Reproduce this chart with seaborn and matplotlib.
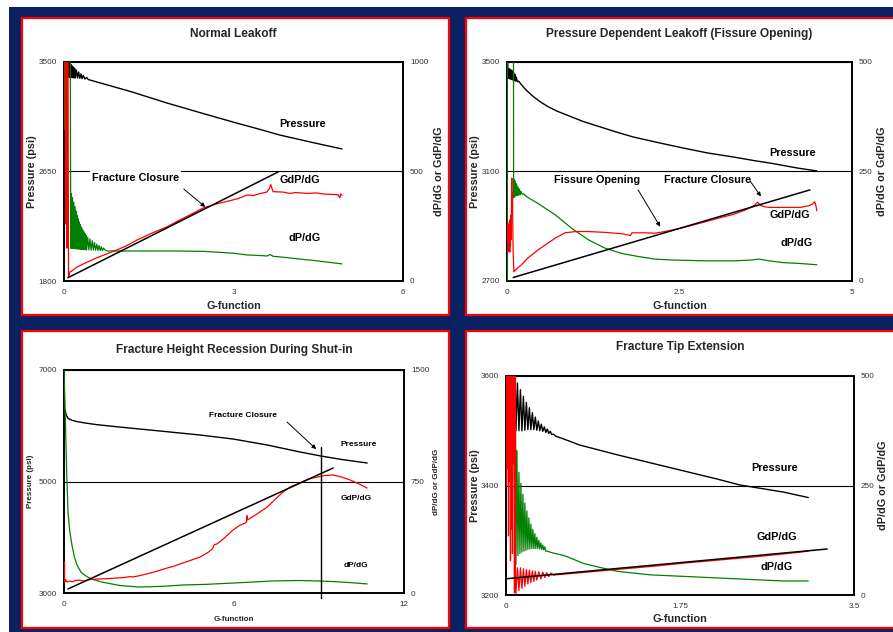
import matplotlib
matplotlib.use("Agg")
import matplotlib.pyplot as plt
from matplotlib.patches import Rectangle
import seaborn as sns

# ---------------- Normal Leakoff ----------------
nl_pres_g = [0.07, 0.08, 0.09, 0.10, 0.11, 0.12, 0.13, 0.14, 0.15, 0.16, 0.17, 0.18, 0.19, 0.20,
             0.22, 0.24, 0.26, 0.28, 0.30, 0.32, 0.34, 0.37, 0.40, 0.43, 0.46, 0.80, 1.20, 1.82,
             2.40, 2.99, 3.40, 3.82, 4.40, 4.92]
nl_pres = [3560, 3385, 3495, 3380, 3488, 3380, 3478, 3379, 3468, 3378, 3458, 3377, 3448, 3376,
           3436, 3375, 3422, 3373, 3408, 3371, 3395, 3368, 3380, 3364, 3360, 3318, 3268, 3182,
           3108, 3034, 2985, 2933, 2875, 2825]
nl_gdp_g = [0.02, 0.03, 0.04, 0.05, 0.06, 0.07, 0.08, 0.10, 0.15, 0.23, 0.40, 0.60, 0.94, 1.10,
            1.30, 1.55, 1.82, 2.00, 2.20, 2.46, 2.70, 2.99, 3.10, 3.24, 3.35, 3.45, 3.59, 3.63,
            3.66, 3.70, 3.88, 4.00, 4.10, 4.30, 4.48, 4.60, 4.70, 4.85, 4.88, 4.90, 4.92]
nl_gdp = [1150, 260, 1150, 150, 1150, 1150, 18, 40, 48, 64, 85, 108, 142, 160,
          188, 218, 247, 272, 298, 333, 352, 370, 378, 393, 390, 398, 406, 420,
          440, 408, 406, 400, 404, 400, 402, 397, 396, 394, 380, 398, 392]
nl_dpdg_g = [0.01, 0.01, 0.11, 0.12, 0.13, 0.14, 0.15, 0.16, 0.17, 0.18, 0.19, 0.20, 0.21,
             0.22, 0.23, 0.24, 0.25, 0.26, 0.27, 0.28, 0.29, 0.30, 0.31, 0.32, 0.33, 0.34,
             0.35, 0.36, 0.37, 0.38, 0.39, 0.40, 0.42, 0.44, 0.46, 0.48, 0.50, 0.52, 0.54,
             0.56, 0.58, 0.60, 0.62, 0.64, 0.66, 0.68, 0.70, 0.74, 0.80, 0.94, 1.20, 1.60,
             2.00, 2.50, 2.99, 3.24, 3.50, 3.59, 3.65, 3.70, 3.90, 4.18, 4.48, 4.70, 4.92]
nl_dpdg = [690, 1100, 1100, 150, 400, 149, 380, 148, 360, 148, 340, 147, 320,
           147, 300, 146, 285, 146, 270, 145, 258, 145, 246, 144, 235, 144,
           225, 143, 216, 143, 208, 142, 200, 142, 192, 141, 184, 141, 176,
           140, 168, 140, 162, 139, 156, 139, 150, 138, 137, 137, 137, 137,
           137, 135, 127, 119, 116, 114, 121, 113, 108, 100, 92, 85, 78]
nl_fit_g = [0.07, 3.79]
nl_fit = [15, 498]

# ---------------- Pressure Dependent Leakoff ----------------
pd_pres_g = [0.01, 0.015, 0.025, 0.035, 0.045, 0.055, 0.065, 0.075, 0.085, 0.095, 0.105, 0.115,
             0.125, 0.135, 0.15, 0.17, 0.20, 0.25, 0.30, 0.38, 0.48, 0.60, 0.73, 0.87, 1.10,
             1.35, 1.60, 1.83, 2.20, 2.55, 2.90, 3.28, 3.60, 3.81, 4.20, 4.49]
pd_pres = [3500, 3470, 3440, 3475, 3438, 3472, 3436, 3468, 3434, 3462, 3432, 3455,
           3430, 3445, 3428, 3430, 3420, 3405, 3392, 3374, 3355, 3336, 3320, 3306, 3283,
           3263, 3243, 3226, 3205, 3186, 3168, 3153, 3139, 3131, 3113, 3102]
pd_gdp_g = [0.01, 0.015, 0.02, 0.025, 0.03, 0.035, 0.04, 0.045, 0.05, 0.055, 0.06, 0.065, 0.07,
            0.075, 0.08, 0.085, 0.09, 0.10, 0.14, 0.21, 0.30, 0.45, 0.58, 0.70, 0.84, 1.00,
            1.17, 1.42, 1.66, 1.79, 1.81, 1.83, 2.00, 2.14, 2.29, 2.50, 2.70, 2.87, 3.05,
            3.28, 3.45, 3.59, 3.63, 3.68, 3.75, 3.81, 4.00, 4.25, 4.38, 4.43, 4.46, 4.48, 4.49]
pd_gdp = [90, 130, 68, 128, 72, 135, 66, 140, 80, 150, 95, 175, 235,
          160, 200, 110, 60, 21, 28, 37, 52, 71, 85, 98, 110, 113,
          113, 111, 108, 104, 110, 110, 110, 109, 113, 120, 128, 135, 143,
          152, 162, 173, 180, 172, 169, 168, 168, 168, 172, 176, 181, 170, 160]
pd_dpdg_g = [0.003, 0.003, 0.094, 0.096, 0.10, 0.11, 0.12, 0.13, 0.14, 0.15, 0.16, 0.17, 0.18,
             0.19, 0.20, 0.22, 0.24, 0.26, 0.30, 0.45, 0.70, 0.94, 1.18, 1.42, 1.66, 1.90,
             2.14, 2.39, 2.87, 3.30, 3.55, 3.65, 3.80, 4.00, 4.25, 4.49]
pd_dpdg = [0, 560, 560, 190, 232, 192, 228, 194, 222, 195, 215, 196, 210,
           197, 205, 198, 199, 196, 191, 177, 151, 120, 94, 75, 63, 56,
           50, 48, 46, 46, 48, 50, 46, 42, 40, 37]
pd_fit_g = [0.09, 4.39]
pd_fit = [8, 208]

# ---------------- Fracture Height Recession ----------------
hr_pres_g = [0.04, 0.08, 0.15, 0.30, 0.50, 0.80, 1.15, 1.80, 2.60, 3.60, 4.80, 5.97, 7.17,
             8.33, 9.07, 9.80, 10.70]
hr_pres = [6280, 6190, 6130, 6095, 6070, 6045, 6020, 5985, 5945, 5895, 5834, 5762, 5655,
           5529, 5457, 5395, 5332]
hr_gdp_g = [0.02, 0.02, 0.05, 0.11, 0.20, 0.30, 0.40, 0.56, 0.67, 0.90, 1.16, 1.50, 1.87,
            2.10, 2.33, 2.44, 2.70, 3.04, 3.30, 3.64, 3.90, 4.20, 4.50, 4.80, 5.10, 5.25,
            5.30, 5.40, 5.60, 5.97, 6.20, 6.40, 6.44, 6.46, 6.48, 6.80, 7.17, 7.45, 7.73,
            8.00, 8.33, 8.60, 8.93, 9.20, 9.50, 9.80, 10.10, 10.40, 10.70]
hr_gdp = [210, 70, 90, 74, 80, 76, 84, 87, 80, 90, 94, 96, 101,
          104, 110, 108, 118, 134, 148, 168, 182, 202, 222, 242, 275, 300,
          325, 330, 360, 424, 455, 470, 480, 520, 492, 530, 578, 630, 679,
          715, 740, 765, 780, 790, 794, 780, 760, 735, 706]
hr_dpdg_g = [0.0, 0.03, 0.07, 0.10, 0.14, 0.20, 0.28, 0.37, 0.46, 0.60, 0.81, 1.00, 1.38,
             1.98, 2.68, 3.50, 4.20, 5.00, 5.97, 7.38, 8.30, 8.93, 9.50, 10.10, 10.70]
hr_dpdg = [1510, 1300, 995, 780, 545, 420, 323, 240, 188, 140, 110, 92, 72,
           50, 40, 45, 54, 58, 67, 81, 84, 81, 77, 70, 61]
hr_fit_g = [0.14, 9.50]
hr_fit = [27, 841]
hr_closure_g = [9.07, 9.07]
hr_closure = [-34, 982]

# ---------------- Fracture Tip Extension ----------------
te_pres_g = [0.02, 0.03, 0.09, 0.10, 0.115, 0.13, 0.145, 0.16, 0.175, 0.19, 0.205, 0.22, 0.235,
             0.25, 0.265, 0.28, 0.295, 0.31, 0.325, 0.34, 0.355, 0.37, 0.385, 0.40, 0.415,
             0.43, 0.445, 0.46, 0.475, 0.50, 0.55, 0.74, 1.12, 1.62, 2.12, 2.35, 2.79, 3.04]
te_pres = [3430, 3620, 3620, 3500, 3587, 3500, 3575, 3500, 3563, 3501, 3552, 3502, 3542,
           3502, 3533, 3502, 3525, 3501, 3518, 3500, 3512, 3499, 3507, 3497, 3503,
           3495, 3499, 3493, 3494, 3490, 3487, 3474, 3456, 3434, 3412, 3401, 3388, 3378]
te_gdp_g = [0.0, 0.005, 0.01, 0.015, 0.02, 0.025, 0.03, 0.035, 0.04, 0.045, 0.05, 0.055, 0.06,
            0.065, 0.07, 0.075, 0.08, 0.085, 0.09, 0.095, 0.10, 0.115, 0.13, 0.145, 0.16,
            0.175, 0.19, 0.205, 0.22, 0.235, 0.25, 0.265, 0.28, 0.295, 0.31, 0.33, 0.35,
            0.37, 0.39, 0.41, 0.43, 0.45, 0.48, 0.50, 0.80, 1.00, 1.30, 1.50, 1.80, 2.00,
            2.30, 2.50, 2.80, 3.04]
te_gdp = [600, 250, 600, 290, 600, 135, 600, 260, 600, 78, 600, 150, 600,
          95, 600, 300, 600, 5, 600, 40, 3, 62, 10, 62, 15,
          60, 20, 58, 25, 57, 28, 55, 31, 54, 34, 53, 37,
          52, 40, 51, 42, 50, 45, 46, 52, 56, 62, 66, 73, 77,
          83, 87, 94, 100]
te_dpdg_g = [0.09, 0.095, 0.10, 0.11, 0.12, 0.13, 0.14, 0.15, 0.16, 0.17, 0.18, 0.19, 0.20,
             0.21, 0.22, 0.23, 0.24, 0.25, 0.26, 0.27, 0.28, 0.29, 0.30, 0.31, 0.32, 0.33,
             0.34, 0.35, 0.36, 0.37, 0.38, 0.39, 0.40, 0.42, 0.44, 0.47, 0.55, 0.61, 0.78,
             1.00, 1.12, 1.45, 2.12, 2.79, 3.04]
te_dpdg = [520, 520, 70, 330, 90, 280, 95, 255, 98, 230, 100, 210, 102,
           192, 104, 176, 105, 162, 106, 150, 106, 140, 106, 132, 106, 125,
           105, 119, 104, 114, 103, 110, 100, 100, 98, 96, 92, 88, 72,
           60, 54, 46, 39, 32, 32]
te_fit_g = [0.0, 3.23]
te_fit = [37, 105]

# ---------------- figure ----------------
NAVY = "#0a2161"
GREEN = "#008000"
RED = "#ff0000"
W, H = 893, 632

sns.set_style("white")
plt.rcParams["font.family"] = ["Liberation Sans", "DejaVu Sans"]

fig = plt.figure(figsize=(W / 100, H / 100), dpi=100, facecolor=NAVY)


def fig_box(x0, y0, x1, y1):
    return (x0 / W, 1 - y1 / H), (x1 - x0) / W, (y1 - y0) / H


# background strips and the four white cards (kept beneath the axes)
for (x0, y0, x1, y1) in [(0, 0, W, 7), (0, 0, 9, H)]:
    xy, w, h = fig_box(x0, y0, x1, y1)
    fig.add_artist(Rectangle(xy, w, h, transform=fig.transFigure,
                             facecolor="white", edgecolor="none", zorder=-3))

for (x0, y0, x1, y1) in [(22, 18, 449, 315), (466, 18, 905, 315),
                         (22, 331, 449, 628), (466, 331, 905, 628)]:
    xy, w, h = fig_box(x0, y0, x1, y1)
    fig.add_artist(Rectangle(xy, w, h, transform=fig.transFigure,
                             facecolor="white", edgecolor=RED, lw=1.6, zorder=-2))


def panel(box, title, title_y, xlim, xticks, xlabels, plim, pticks, dlim, dticks,
          pres, gdp, dpdg, fit, lab_x, lab_r, lab_b, small=False):
    x0, y0, x1, y1 = box
    xy, w, h = fig_box(x0, y0, x1, y1)
    ax = fig.add_axes([xy[0], xy[1], w, h])
    ax.set_facecolor("white")
    ax2 = ax.twinx()

    sns.lineplot(x=pres[0], y=pres[1], ax=ax, color="black", lw=1.0,
                 sort=False, estimator=None)
    sns.lineplot(x=dpdg[0], y=dpdg[1], ax=ax2, color=GREEN, lw=0.9,
                 sort=False, estimator=None)
    sns.lineplot(x=gdp[0], y=gdp[1], ax=ax2, color=RED, lw=0.9,
                 sort=False, estimator=None)
    sns.lineplot(x=fit[0], y=fit[1], ax=ax2, color="black", lw=1.1,
                 sort=False, estimator=None)

    ax.set_xlim(*xlim)
    ax.set_ylim(*plim)
    ax2.set_ylim(*dlim)
    ax.set_xticks(xticks)
    ax.set_xticklabels(xlabels)
    ax.set_yticks(pticks)
    ax.set_yticklabels([str(t) for t in pticks])
    ax2.set_yticks(dticks)
    ax2.set_yticklabels([str(t) for t in dticks])

    ax.yaxis.grid(True, color="black", lw=0.8)
    ax.xaxis.grid(False)
    ax2.grid(False)
    ax.set_axisbelow(True)
    for sp in ax.spines.values():
        sp.set_visible(True)
        sp.set_color("black")
        sp.set_linewidth(1.4)
    for sp in ax2.spines.values():
        sp.set_visible(False)

    tick_kw = dict(length=0, labelsize=5.9, labelcolor="#333333")
    ax.tick_params(axis="y", pad=5, **tick_kw)
    ax.tick_params(axis="x", pad=6, **tick_kw)
    ax2.tick_params(axis="y", pad=5, **tick_kw)

    lsize = 5.8 if small else 7.8
    ax.set_ylabel("Pressure (psi)", fontsize=lsize, fontweight="bold", va="center")
    ax.yaxis.set_label_coords(lab_x, 0.5)
    ax2.set_ylabel("dP/dG or GdP/dG", fontsize=lsize, fontweight="bold",
                   va="center", rotation=90)
    ax2.yaxis.set_label_coords(lab_r, 0.5)
    ax.set_xlabel("G-function", fontsize=lsize, fontweight="bold", va="center")
    ax.xaxis.set_label_coords(0.5, lab_b)
    ax.set_title(title, fontsize=8.6, fontweight="bold", y=title_y, va="center", pad=0)
    return ax, ax2


def note(ax, x, y, s, size=7.8, box=False):
    kw = dict(ha="center", va="center", fontsize=size, fontweight="bold", color="black")
    if box:
        kw["bbox"] = dict(facecolor="white", edgecolor="none", pad=1.5)
    ax.text(x, y, s, **kw)


def arrow(ax, start, tip):
    ax.annotate("", xy=tip, xytext=start,
                arrowprops=dict(arrowstyle="-|>", color="black", lw=0.7,
                                mutation_scale=6, shrinkA=0, shrinkB=0))


# Normal Leakoff
a, b = panel((64, 62, 403, 281), "Normal Leakoff", 1.128,
             (0, 6), [0, 3, 6], ["0", "3", "6"],
             (1800, 3500), [1800, 2650, 3500], (0, 1000), [0, 500, 1000],
             (nl_pres_g, nl_pres), (nl_gdp_g, nl_gdp), (nl_dpdg_g, nl_dpdg),
             (nl_fit_g, nl_fit), -0.094, 1.106, -0.114)
note(b, 4.23, 717, "Pressure")
note(b, 1.27, 470, "Fracture Closure", box=True)
note(b, 4.18, 461, "GdP/dG")
note(b, 4.25, 196, "dP/dG")
arrow(b, (2.12, 420), (2.50, 338))

# Pressure Dependent Leakoff
a, b = panel((507, 62, 852, 281), "Pressure Dependent Leakoff (Fissure Opening)", 1.128,
             (0, 5), [0, 2.5, 5], ["0", "2.5", "5"],
             (2700, 3500), [2700, 3100, 3500], (0, 500), [0, 250, 500],
             (pd_pres_g, pd_pres), (pd_gdp_g, pd_gdp), (pd_dpdg_g, pd_dpdg),
             (pd_fit_g, pd_fit), -0.093, 1.087, -0.114)
note(b, 4.14, 292, "Pressure")
note(b, 1.31, 231, "Fissure Opening")
note(b, 2.90, 231, "Fracture Closure")
note(b, 4.10, 151, "GdP/dG")
note(b, 4.19, 87, "dP/dG")
arrow(b, (1.90, 208), (2.22, 124))
arrow(b, (3.52, 229), (3.68, 193))

# Fracture Height Recession
a, b = panel((64, 370, 404, 593), "Fracture Height Recession During Shut-in", 1.090,
             (0, 12), [0, 6, 12], ["0", "6", "12"],
             (3000, 7000), [3000, 5000, 7000], (0, 1500), [0, 750, 1500],
             (hr_pres_g, hr_pres), (hr_gdp_g, hr_gdp), (hr_dpdg_g, hr_dpdg),
             (hr_fit_g, hr_fit), -0.100, 1.097, -0.121, small=True)
sns.lineplot(x=hr_closure_g, y=hr_closure, ax=b, color="black", lw=1.0,
             sort=False, estimator=None, clip_on=False)
note(b, 6.32, 1197, "Fracture Closure", size=6.0)
note(b, 10.41, 1002, "Pressure", size=6.0)
note(b, 10.31, 639, "GdP/dG", size=6.0)
note(b, 10.31, 182, "dP/dG", size=6.0)
arrow(b, (7.87, 1150), (8.90, 968))

# Fracture Tip Extension
a, b = panel((506, 376, 854, 595), "Fracture Tip Extension", 1.132,
             (0, 3.5), [0, 1.75, 3.5], ["0", "1.75", "3.5"],
             (3200, 3600), [3200, 3400, 3600], (0, 500), [0, 250, 500],
             (te_pres_g, te_pres), (te_gdp_g, te_gdp), (te_dpdg_g, te_dpdg),
             (te_fit_g, te_fit), -0.089, 1.083, -0.110)
note(b, 2.70, 290, "Pressure")
note(b, 2.72, 132, "GdP/dG")
note(b, 2.72, 64, "dP/dG")

fig.savefig("out.png", dpi=100, facecolor=NAVY)
